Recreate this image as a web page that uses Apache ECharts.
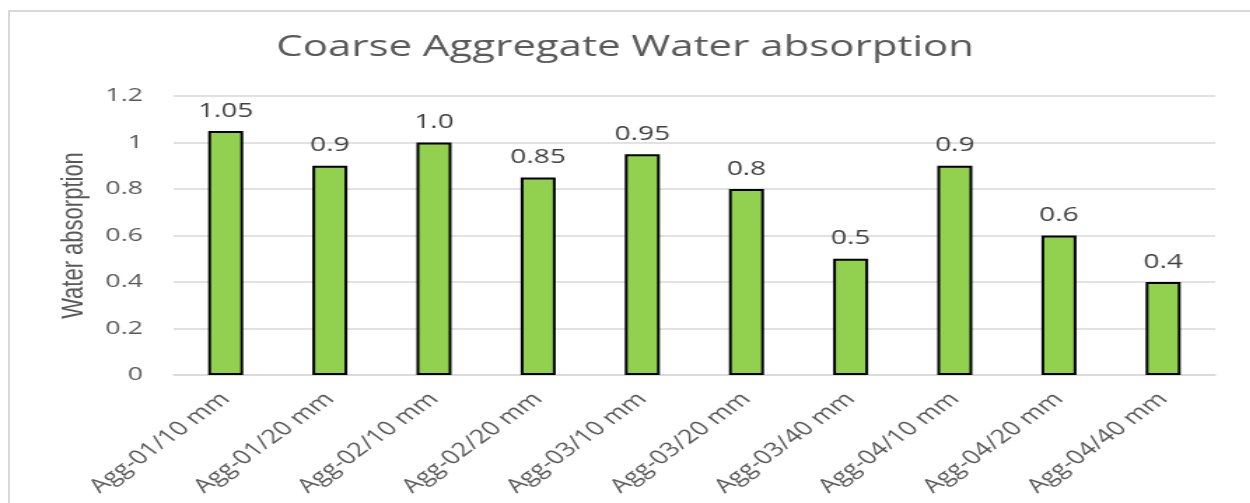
<!DOCTYPE html>
<html>
<head>
<meta charset="utf-8">
<script src="https://cdn.jsdelivr.net/npm/echarts@6/dist/echarts.min.js"></script>
<style>
  html, body { margin: 0; padding: 0; background: #fff; overflow: hidden; }
  #frame { position: absolute; left: 8px; top: 10px; width: 1300px; height: 600px; border: 2px solid #d9d9d9; }
  /* the reference picture is stretched sideways, so draw narrow and stretch */
  #chart { position: absolute; left: 0; top: 0; width: 893px; height: 503px; transform: scaleX(1.4); transform-origin: 0 0; }
</style>
</head>
<body>
<div id="frame"></div>
<div id="chart"></div>
<script>
'use strict'
var categories = ['Agg-01/10 mm', 'Agg-01/20 mm', 'Agg-02/10 mm', 'Agg-02/20 mm', 'Agg-03/10 mm',
    'Agg-03/20 mm', 'Agg-03/40 mm', 'Agg-04/10 mm', 'Agg-04/20 mm', 'Agg-04/40 mm'];
var absorption = [1.05, 0.9, 1.0, 0.85, 0.95, 0.8, 0.5, 0.9, 0.6, 0.4];
var yTicks = { min: 0, max: 1.2, interval: 0.2 };

var chart = echarts.init(document.getElementById('chart'), null, { renderer: 'canvas' });
var option = {
    animation: false,
    textStyle: { fontFamily: 'Open Sans' },
    title: {
        text: 'Coarse Aggregate Water absorption',
        left: 'center',
        top: 27,
        textStyle: { fontFamily: 'Open Sans', fontSize: 30, fontWeight: 'normal', color: '#595959' }
    },
    grid: { left: 124, right: 25, top: 96, bottom: 128 },
    xAxis: {
        type: 'category',
        data: categories,
        axisLine: { lineStyle: { color: '#d9d9d9', width: 1.5 } },
        axisTick: { show: false },
        axisLabel: { rotate: 45, margin: 21, fontSize: 19.5, color: '#595959', interval: 0 }
    },
    yAxis: {
        type: 'value',
        min: yTicks.min,
        max: yTicks.max,
        interval: yTicks.interval,
        name: 'Water absorption',
        nameLocation: 'middle',
        nameGap: 58,
        nameTextStyle: { fontFamily: 'Liberation Sans', fontSize: 22, color: '#595959' },
        axisLine: { show: false },
        axisTick: { show: false },
        axisLabel: { margin: 22, fontSize: 19, color: '#595959' },
        splitLine: { lineStyle: { color: '#d9d9d9', width: 1.5 } }
    },
    series: [{
        type: 'bar',
        data: absorption,
        barWidth: 25,
        itemStyle: { color: '#92d050', borderColor: '#000', borderWidth: 2 },
        label: {
            show: true,
            position: 'top',
            distance: 10,
            fontSize: 20,
            color: '#404040',
            formatter: function (p) {
                var s = String(p.value);
                return s.indexOf('.') >= 0 ? s : p.value.toFixed(1);
            }
        }
    }]
};
chart.setOption(option);
</script>
</body>
</html>
